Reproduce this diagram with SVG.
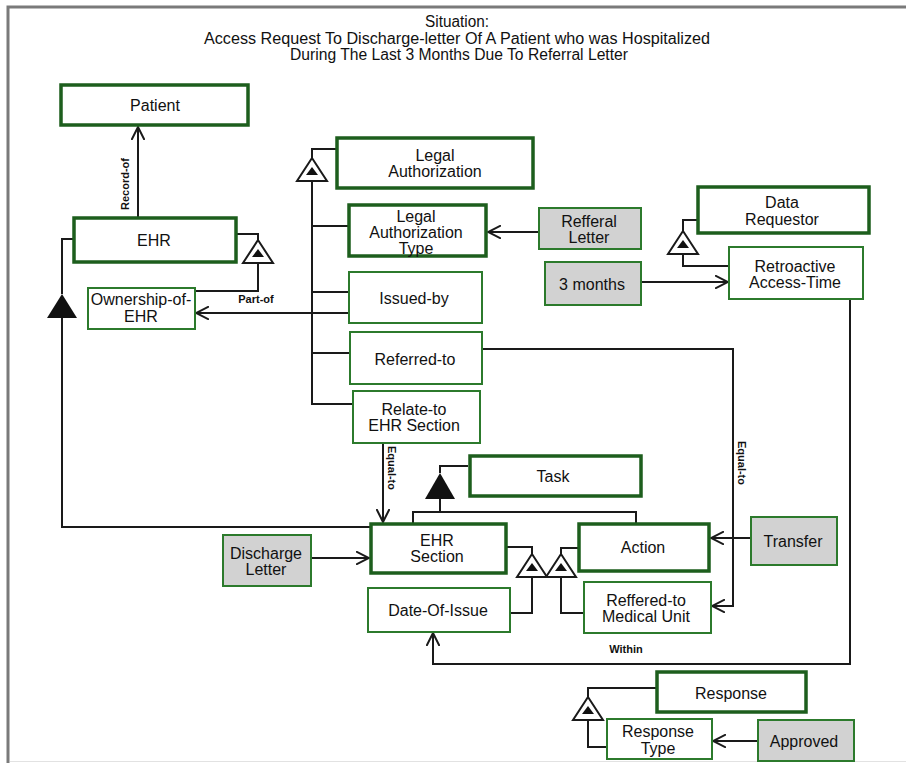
<svg xmlns="http://www.w3.org/2000/svg" xmlns:xlink="http://www.w3.org/1999/xlink" width="906" height="763" viewBox="0 0 906 763">
  <style>
    text { font-family: "Liberation Sans", Arial, sans-serif; fill: #111; }
    .t { font-size: 16px; text-anchor: middle; }
    .title { font-size: 16px; text-anchor: middle; }
    .lbl { font-size: 11px; font-weight: bold; text-anchor: middle; }
    .thick { fill: #fff; stroke: #1d5e1d; stroke-width: 3.5; }
    .thin { fill: #fff; stroke: #2c7a2c; stroke-width: 2; }
    .val { fill: #d2d2d2; stroke: #2c7a2c; stroke-width: 2; }
    .wire { fill: none; stroke: #1a1a1a; stroke-width: 2; }
    .arr { marker-end: url(#open); }
  </style>
  <defs>
    <marker id="open" viewBox="0 0 14 14" refX="13" refY="7" markerWidth="14" markerHeight="14" markerUnits="userSpaceOnUse" orient="auto">
      <path d="M0,0.5 L13,7 L0,13.5" fill="none" stroke="#1a1a1a" stroke-width="2"/>
    </marker>
    <!-- hollow aggregation triangle with small solid core; origin at apex -->
    <g id="tri">
      <path d="M0,0 L-15,23 L15,23 Z" fill="#fff" stroke="#1a1a1a" stroke-width="2"/>
      <path d="M0,9 L-6,17 L6,17 Z" fill="#111"/>
    </g>
  </defs>

  <!-- frame -->
  <rect x="0" y="0" width="906" height="763" fill="#fff"/>
  <path d="M8,763 V7 H906" fill="none" stroke="#7a7a7a" stroke-width="3"/>
  <path d="M10,761.5 H906" fill="none" stroke="#e2e2e2" stroke-width="1"/>

  <!-- title -->
  <g id="title">
    <text class="title" x="457" y="27" textLength="64" lengthAdjust="spacingAndGlyphs">Situation:</text>
    <text class="title" x="457" y="44" textLength="506" lengthAdjust="spacingAndGlyphs">Access Request To Discharge-letter Of A Patient who was Hospitalized</text>
    <text class="title" x="459" y="60" textLength="338" lengthAdjust="spacingAndGlyphs">During The Last 3 Months Due To Referral Letter</text>
  </g>

  <!-- connectors -->
  <g id="connectors">
    <path class="wire arr" d="M138,217 V127"/>
    <path class="wire" d="M237,234 H258 V240"/>
    <path class="wire" d="M258,263 V291 H196"/>
    <path class="wire arr" d="M349,313 H196"/>
    <path class="wire" d="M73,239 H62 V294"/>
    <path class="wire" d="M62,318 V527 H370"/>
    <path class="wire" d="M336,149 H312 V158"/>
    <path class="wire" d="M312,181 V404 H353 M312,226 H348 M312,292 H349 M312,353 H350"/>
    <path class="wire arr" d="M482,349 H733 V606 H712"/>
    <path class="wire arr" d="M539,232 H488"/>
    <path class="wire" d="M697,220 H683 V231"/>
    <path class="wire" d="M683,254 V266 H729"/>
    <path class="wire arr" d="M641,282 H728"/>
    <path class="wire arr" d="M850,299 V664 H433 V633"/>
    <path class="wire arr" d="M383,443 V522"/>
    <path class="wire" d="M468,466 H440 V473"/>
    <path class="wire" d="M440,498 V512 M413,523 V512 H636 V523"/>
    <path class="wire arr" d="M311,558 H369"/>
    <path class="wire" d="M507,547 H532 V554"/>
    <path class="wire" d="M532,577 V613 H510"/>
    <path class="wire" d="M578,548 H561 V554"/>
    <path class="wire" d="M561,577 V613 H584"/>
    <path class="wire arr" d="M751,538 H711"/>
    <path class="wire" d="M656,688 H588 V697"/>
    <path class="wire" d="M588,720 V747 H607"/>
    <path class="wire arr" d="M758,741 H713"/>

    <!-- connector labels -->
    <text class="lbl" transform="translate(129,184) rotate(-90)">Record-of</text>
    <text class="lbl" x="256" y="303">Part-of</text>
    <text class="lbl" transform="translate(388,468) rotate(90)">Equal-to</text>
    <text class="lbl" transform="translate(738,463) rotate(90)">Equal-to</text>
    <text class="lbl" x="626" y="653">Within</text>

    <!-- relation triangles -->
    <use xlink:href="#tri" x="258" y="240"/>
    <use xlink:href="#tri" x="312" y="158"/>
    <use xlink:href="#tri" x="683" y="231"/>
    <use xlink:href="#tri" x="532" y="554"/>
    <use xlink:href="#tri" x="561" y="554"/>
    <use xlink:href="#tri" x="588" y="697"/>
    <path d="M62,294 L47,318 L77,318 Z" fill="#111"/>
    <path d="M440,473 L425,499 L455,499 Z" fill="#111"/>
  </g>

  <!-- nodes -->
  <g id="patient"><rect class="thick" x="61" y="85" width="187" height="40"/><text class="t" x="155" y="111">Patient</text></g>
  <g id="ehr"><rect class="thick" x="74" y="218" width="162" height="44"/><text class="t" x="154" y="246">EHR</text></g>
  <g id="ownership"><rect class="thin" x="88" y="288" width="107" height="41"/><text class="t" x="141" y="305">Ownership-of-</text><text class="t" x="141" y="322">EHR</text></g>
  <g id="legal-authorization"><rect class="thick" x="337" y="138" width="196" height="50"/><text class="t" x="435" y="161">Legal</text><text class="t" x="435" y="177">Authorization</text></g>
  <g id="legal-authorization-type"><rect class="thick" x="349" y="205" width="137" height="51"/><text class="t" x="416" y="222">Legal</text><text class="t" x="416" y="238">Authorization</text><text class="t" x="416" y="254">Type</text></g>
  <g id="issued-by"><rect class="thin" x="349" y="272" width="133" height="51"/><text class="t" x="414" y="304">Issued-by</text></g>
  <g id="referred-to"><rect class="thin" x="350" y="332" width="132" height="52"/><text class="t" x="415" y="365">Referred-to</text></g>
  <g id="relate-to"><rect class="thin" x="353" y="391" width="127" height="52"/><text class="t" x="414" y="415">Relate-to</text><text class="t" x="414" y="431">EHR Section</text></g>
  <g id="task"><rect class="thick" x="470" y="456" width="171" height="40"/><text class="t" x="553" y="482">Task</text></g>
  <g id="ehr-section"><rect class="thick" x="371" y="524" width="135" height="49"/><text class="t" x="437" y="546">EHR</text><text class="t" x="437" y="562">Section</text></g>
  <g id="discharge-letter"><rect class="val" x="223" y="535" width="88" height="51"/><text class="t" x="266" y="559">Discharge</text><text class="t" x="266" y="575">Letter</text></g>
  <g id="date-of-issue"><rect class="thin" x="368" y="588" width="142" height="44"/><text class="t" x="438" y="616">Date-Of-Issue</text></g>
  <g id="action"><rect class="thick" x="579" y="524" width="130" height="47"/><text class="t" x="643" y="553">Action</text></g>
  <g id="referred-medical-unit"><rect class="thin" x="584" y="582" width="127" height="51"/><text class="t" x="646" y="606">Reffered-to</text><text class="t" x="646" y="622">Medical Unit</text></g>
  <g id="transfer"><rect class="val" x="751" y="517" width="86" height="48"/><text class="t" x="793" y="547">Transfer</text></g>
  <g id="data-requestor"><rect class="thick" x="698" y="187" width="171" height="46"/><text class="t" x="782" y="208">Data</text><text class="t" x="782" y="225">Requestor</text></g>
  <g id="retroactive-access-time"><rect class="thin" x="729" y="247" width="134" height="52"/><text class="t" x="795" y="272">Retroactive</text><text class="t" x="795" y="288">Access-Time</text></g>
  <g id="three-months"><rect class="val" x="545" y="262" width="96" height="43"/><text class="t" x="592" y="290">3 months</text></g>
  <g id="referral-letter"><rect class="val" x="539" y="208" width="102" height="41"/><text class="t" x="589" y="227">Refferal</text><text class="t" x="589" y="243">Letter</text></g>
  <g id="response"><rect class="thick" x="657" y="672" width="149" height="40"/><text class="t" x="731" y="699">Response</text></g>
  <g id="response-type"><rect class="thin" x="607" y="719" width="105" height="40"/><text class="t" x="658" y="737">Response</text><text class="t" x="658" y="754">Type</text></g>
  <g id="approved"><rect class="val" x="758" y="720" width="96" height="41"/><text class="t" x="804" y="747">Approved</text></g>
</svg>
